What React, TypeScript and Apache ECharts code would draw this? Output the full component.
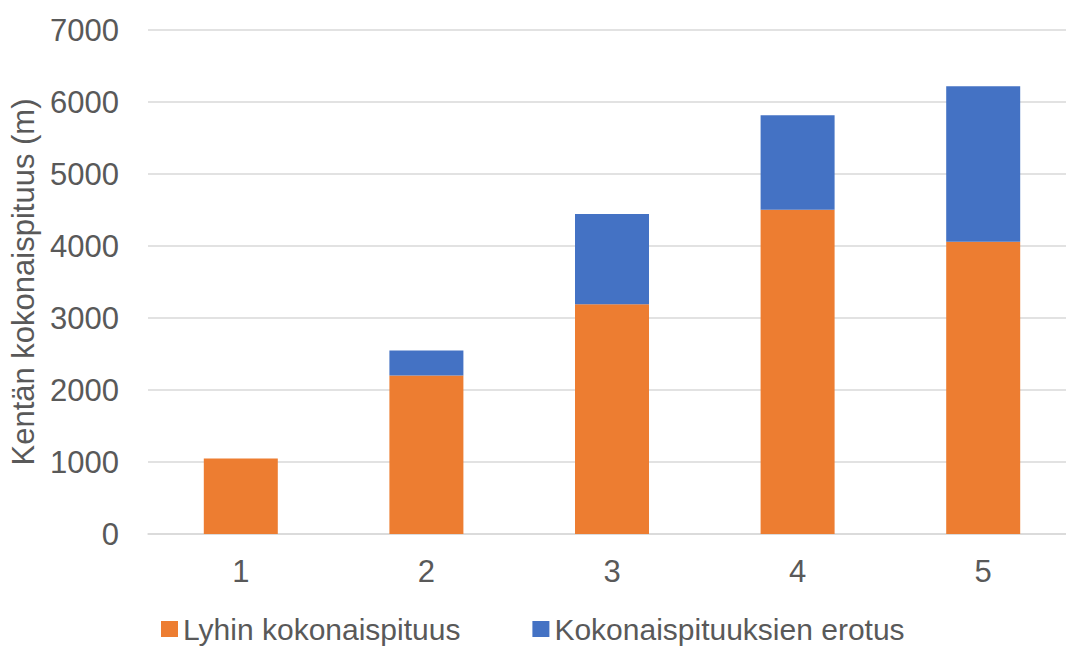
import React, { useEffect, useRef } from "react";
import * as echarts from "echarts";

const categories = ["1", "2", "3", "4", "5"];
const shortestTotal = [1050, 2200, 3190, 4505, 4060];
const totalDifference = [0, 350, 1255, 1310, 2160];
const seriesNames = ["Lyhin kokonaispituus", "Kokonaispituuksien erotus"];
const yAxisName = "Kentän kokonaispituus (m)";

export default function App() {
  const ref = useRef<HTMLDivElement>(null);
  useEffect(() => {
    document.body.style.margin = "0";
    const chart = echarts.init(ref.current!, null, { renderer: "svg" });
    const font = "Liberation Sans, Arial, sans-serif";
    chart.setOption({
      animation: false,
      backgroundColor: "#ffffff",
      grid: { left: 148, right: -10, top: 30, bottom: 112, outerBoundsMode: "none", containLabel: false },
      legend: {
        left: 156,
        top: 609,
        icon: "rect",
        itemWidth: 17,
        itemHeight: 16,
        itemGap: 72,
        textStyle: { fontFamily: font, fontSize: 30, color: "#595959" },
        data: seriesNames,
      },
      xAxis: {
        type: "category",
        data: categories,
        axisLine: { lineStyle: { color: "#D9D9D9", width: 1.5 } },
        axisTick: { show: false },
        axisLabel: { fontFamily: font, fontSize: 31, color: "#595959", margin: 22 },
      },
      yAxis: {
        type: "value",
        min: 0,
        max: 7000,
        interval: 1000,
        name: yAxisName,
        nameLocation: "middle",
        nameGap: 104,
        nameTextStyle: { fontFamily: font, fontSize: 31, color: "#595959" },
        axisLine: { show: false },
        axisTick: { show: false },
        axisLabel: {
          fontFamily: font,
          fontSize: 31,
          color: "#595959",
          margin: 29,
          formatter: (v: number) => String(v),
        },
        splitLine: { lineStyle: { color: "#D9D9D9", width: 1.5 } },
      },
      series: [
        {
          name: seriesNames[0],
          type: "bar",
          stack: "total",
          barWidth: 74,
          data: shortestTotal,
          itemStyle: { color: "#ED7D31" },
        },
        {
          name: seriesNames[1],
          type: "bar",
          stack: "total",
          barWidth: 74,
          data: totalDifference,
          itemStyle: { color: "#4472C4" },
        },
      ],
    });
    return () => chart.dispose();
  }, []);
  return <div ref={ref} style={{ width: 1066, height: 646 }} />;
}
